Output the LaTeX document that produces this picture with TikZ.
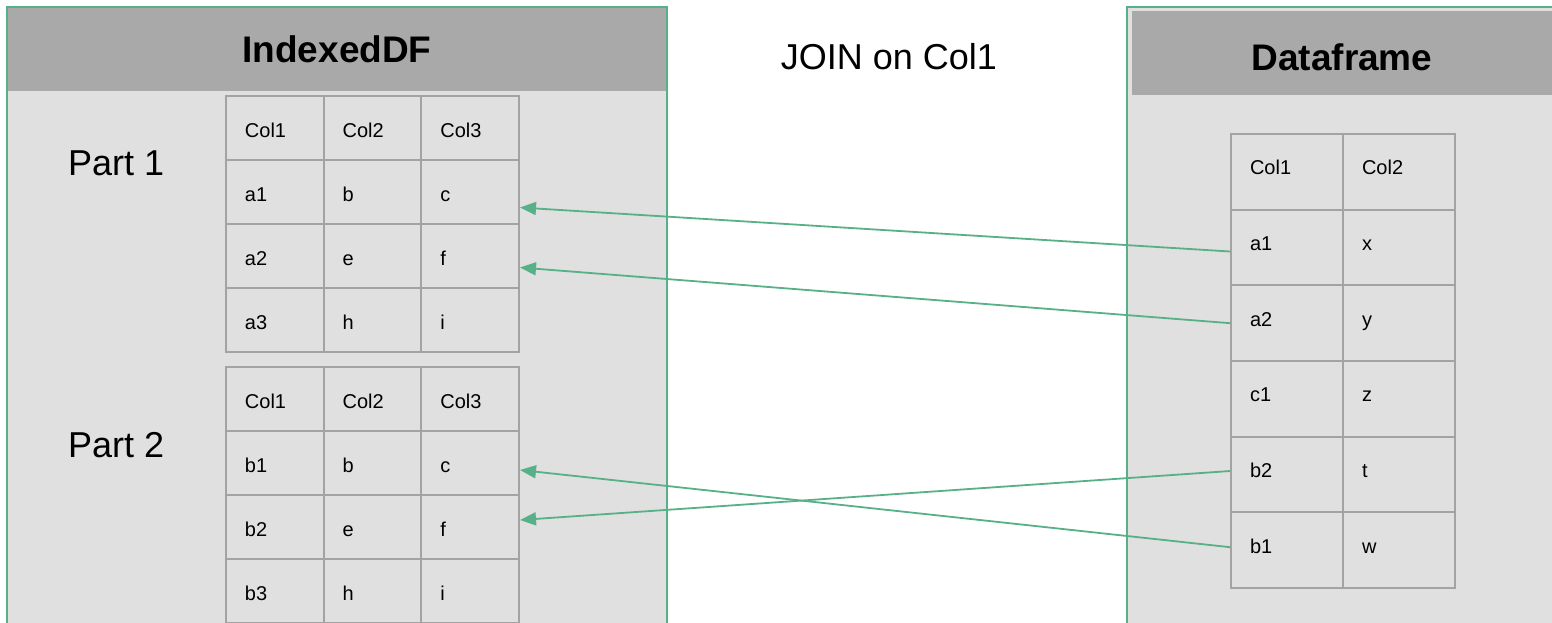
\documentclass[tikz,border=0pt]{standalone}
\usepackage{fontspec}
\setmainfont{Liberation Sans}
\usetikzlibrary{arrows.meta}
\definecolor{joingreen}{HTML}{57B087}
\definecolor{headgray}{HTML}{A9A9A9}
\definecolor{bodygray}{HTML}{E0E0E0}
\definecolor{gridgray}{HTML}{A3A3A3}

\begin{document}
\begin{tikzpicture}[x=1pt,y=-1pt,
   panel/.style={fill=bodygray,draw=joingreen,line width=1.5pt},
   header/.style={fill=headgray,inner sep=0,font=\fontsize{37}{44}\selectfont\bfseries},
   big/.style={inner sep=0,font=\fontsize{36}{43}\selectfont},
   cell/.style={draw=gridgray,line width=2pt,fill=bodygray,inner xsep=19pt,inner ysep=0,
      align=left,font=\fontsize{20}{24}\selectfont},
   lcell/.style={cell,text width=59.67pt,minimum height=64pt,text height=19pt,text depth=1pt},
   rcell/.style={cell,text width=74pt,minimum height=75.67pt,text height=16pt,text depth=10pt},
   link/.style={draw=joingreen,line width=1.8pt,-{Triangle[length=16pt,width=13pt]}}]
\useasboundingbox (0,0) rectangle (1552,622);
\clip (0,0) rectangle (1552,622);

\draw[panel] (7,7) rectangle (667,640);
\draw[panel] (1127,7) rectangle (1570,640);
\node[header,minimum width=658.5pt,minimum height=83pt] (idxhead) at (337,49.5) {IndexedDF};
\node[header,minimum width=420pt,minimum height=84pt,text height=34pt,text depth=0pt] (dfhead) at (1342,53) {Dataframe};
\node[big] (join) at (889,57) {JOIN on Col1};
\node[big,anchor=west] (part1) at (68,163) {Part 1};
\node[big,anchor=west] (part2) at (68,445) {Part 2};

\foreach \p/\top/\k in {1/96/a,2/367/b}
  \foreach \x/\y/\z [count=\i from 0] in {Col1/Col2/Col3,\k1/b/c,\k2/e/f,\k3/h/i} {
    \node[lcell] (p\p-\i-1) at (274.83,{\top+64*\i+32}) {\x};
    \node[lcell] (p\p-\i-2) at (372.5,{\top+64*\i+32}) {\y};
    \node[lcell] (p\p-\i-3) at (470.17,{\top+64*\i+32}) {\z};
  }

\foreach \x/\y [count=\i from 0] in {Col1/Col2,a1/x,a2/y,c1/z,b2/t,b1/w} {
  \node[rcell] (df-\i-1) at (1287,{134+75.67*\i+37.83}) {\x};
  \node[rcell] (df-\i-2) at (1399,{134+75.67*\i+37.83}) {\y};
}

\draw[link] ([yshift=-4pt]df-1-1.west) -- ([yshift=-15.5pt]p1-1-3.east);
\draw[link] (df-2-1.west) -- ([yshift=-11.5pt]p1-2-3.east);
\draw[link] ([yshift=3.5pt]df-4-1.west) -- ([yshift=7pt]p2-2-3.east);
\draw[link] ([yshift=3pt]df-5-1.west) -- ([yshift=-7pt]p2-1-3.east);
\end{tikzpicture}
\end{document}
